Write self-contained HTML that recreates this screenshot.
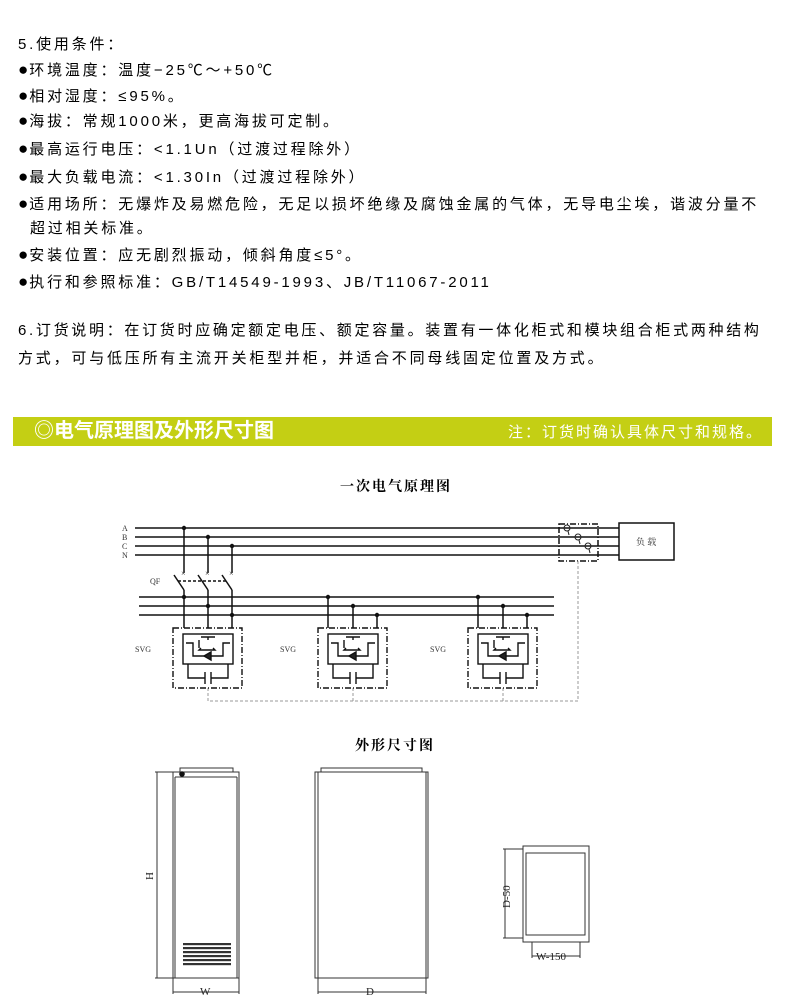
<!DOCTYPE html>
<html><head><meta charset="utf-8"><style>
body{margin:0;background:#fff;width:800px;height:1000px;position:relative;overflow:hidden;font-family:"Liberation Sans","Noto Sans CJK SC",sans-serif;color:#000}
.t{position:absolute;left:18px;font-size:15px;line-height:20px;letter-spacing:2.8px;white-space:nowrap}
.t b{font-size:17px;font-weight:normal;letter-spacing:0;margin-right:1px}
.bar{position:absolute;left:13px;top:417px;width:759px;height:29px;background:#c4cf14}
</style></head><body>
<div class="t" style="top:35px">5.使用条件：</div>
<div class="t" style="top:60px"><b>●</b>环境温度：温度−25℃～+50℃</div>
<div class="t" style="top:86px"><b>●</b>相对湿度：≤95%。</div>
<div class="t" style="top:111px"><b>●</b>海拔：常规1000米，更高海拔可定制。</div>
<div class="t" style="top:139px"><b>●</b>最高运行电压：&lt;1.1Un（过渡过程除外）</div>
<div class="t" style="top:167px"><b>●</b>最大负载电流：&lt;1.30In（过渡过程除外）</div>
<div class="t" style="top:194px"><b>●</b>适用场所：无爆炸及易燃危险，无足以损坏绝缘及腐蚀金属的气体，无导电尘埃，谐波分量不</div>
<div class="t" style="top:219px;left:30px">超过相关标准。</div>
<div class="t" style="top:245px"><b>●</b>安装位置：应无剧烈振动，倾斜角度≤5°。</div>
<div class="t" style="top:272px"><b>●</b>执行和参照标准：GB/T14549-1993、JB/T11067-2011</div>
<div class="t" style="top:321px;letter-spacing:2.7px">6.订货说明：在订货时应确定额定电压、额定容量。装置有一体化柜式和模块组合柜式两种结构</div>
<div class="t" style="top:349px">方式，可与低压所有主流开关柜型并柜，并适合不同母线固定位置及方式。</div>
<div class="bar"></div>
<div style="position:absolute;left:34px;top:419px;font-size:20px;font-weight:bold;color:#fff;line-height:25px">◎电气原理图及外形尺寸图</div>
<div style="position:absolute;left:508px;top:423px;font-size:15px;color:#fff;letter-spacing:2px;line-height:20px;white-space:nowrap">注：订货时确认具体尺寸和规格。</div>
<div style="position:absolute;left:340px;top:476px;font-size:14px;letter-spacing:2px;font-family:'Liberation Serif','Noto Serif CJK SC',serif;font-weight:bold">一次电气原理图</div>
<div style="position:absolute;left:355px;top:735px;font-size:14px;letter-spacing:2px;font-family:'Liberation Serif','Noto Serif CJK SC',serif;font-weight:bold">外形尺寸图</div>
<svg width="800" height="1000" style="position:absolute;left:0;top:0" font-family="Liberation Serif,serif">
<g stroke="#111" stroke-width="1.5" fill="none">
<line x1="135" y1="528" x2="619" y2="528"/><line x1="135" y1="537" x2="619" y2="537"/>
<line x1="135" y1="546" x2="619" y2="546"/><line x1="135" y1="555" x2="619" y2="555"/>
<line x1="139" y1="597" x2="554" y2="597"/><line x1="139" y1="606" x2="554" y2="606"/><line x1="139" y1="615" x2="554" y2="615"/>
<line x1="184" y1="528" x2="184" y2="573"/><line x1="208" y1="537" x2="208" y2="573"/><line x1="232" y1="546" x2="232" y2="573"/>
<line x1="174" y1="575" x2="184" y2="590"/><line x1="198" y1="575" x2="208" y2="590"/><line x1="222" y1="575" x2="232" y2="590"/>
<line x1="184" y1="590" x2="184" y2="628"/><line x1="208" y1="590" x2="208" y2="628"/><line x1="232" y1="590" x2="232" y2="628"/>
<line x1="178" y1="581" x2="228" y2="581" stroke-dasharray="3,2"/>
<line x1="328" y1="597" x2="328" y2="628"/><line x1="353" y1="606" x2="353" y2="628"/><line x1="377" y1="615" x2="377" y2="628"/>
<line x1="478" y1="597" x2="478" y2="628"/><line x1="503" y1="606" x2="503" y2="628"/><line x1="527" y1="615" x2="527" y2="628"/>
<rect x="559" y="524" width="39" height="37" stroke-dasharray="6,2,1,2"/>
<rect x="619" y="523" width="55" height="37"/>
</g>
<g font-size="8" fill="#333"><text x="122" y="531">A</text><text x="122" y="540">B</text><text x="122" y="549">C</text><text x="122" y="558">N</text>
<text x="150" y="584">QF</text><text x="135" y="652">SVG</text><text x="280" y="652">SVG</text><text x="430" y="652">SVG</text>
<text x="636" y="545" font-family="Noto Serif CJK SC,serif" font-size="9">负 载</text></g>
<g fill="#111"><circle cx="184" cy="528" r="2.2"/><circle cx="208" cy="537" r="2.2"/><circle cx="232" cy="546" r="2.2"/>
<circle cx="184" cy="597" r="2.2"/><circle cx="208" cy="606" r="2.2"/><circle cx="232" cy="615" r="2.2"/>
<circle cx="328" cy="597" r="2.2"/><circle cx="353" cy="606" r="2.2"/><circle cx="377" cy="615" r="2.2"/>
<circle cx="478" cy="597" r="2.2"/><circle cx="503" cy="606" r="2.2"/><circle cx="527" cy="615" r="2.2"/></g>
<g font-size="8" fill="#222"><text x="181" y="576">×</text><text x="205" y="576">×</text><text x="229" y="576">×</text></g>
<g stroke="#222" fill="none" stroke-width="1"><circle cx="567" cy="528" r="3"/><circle cx="578" cy="537" r="3"/><circle cx="588" cy="546" r="3"/>
<line x1="568" y1="531" x2="569" y2="535"/><line x1="579" y1="540" x2="580" y2="544"/><line x1="589" y1="549" x2="590" y2="553"/></g>
<path d="M578 561 V701 H208 M353 701V688 M503 701V688 M208 701V688" stroke="#999" fill="none" stroke-dasharray="3,2"/>
<g id="svg1" stroke="#111" fill="none" stroke-width="1.4">
<rect x="173" y="628" width="69" height="60" stroke-dasharray="6,2,1,2"/>
<rect x="183" y="634" width="50" height="30"/>
<path d="M188 664V678H205M211 678H228V664M205 672V684M211 672V684"/>
<path d="M186 643H193V656H223V643H230M199 640V648M201 637H215M208 637V640M201 648L199 650L215 650L213 648"/>
<path d="M204 656l7-4v8z M211 652v8" fill="#222"/>
</g>
<use href="#svg1" x="145"/><use href="#svg1" x="295"/>
<g stroke="#333" fill="none" stroke-width="1">
<rect x="173" y="772" width="66" height="206"/><line x1="175" y1="777" x2="237" y2="777"/>
<line x1="175" y1="777" x2="175" y2="978"/><line x1="237" y1="777" x2="237" y2="978"/>
<path d="M180 772V768H233V772"/>
<path d="M173 978V994M239 978V994M157 772V978M155 772H173M155 978H173M173 992H239"/>
<rect x="315" y="772" width="113" height="206"/><line x1="318" y1="772" x2="318" y2="978"/><line x1="426" y1="772" x2="426" y2="978"/>
<path d="M321 772V768H422V772M318 978V994M426 978V994M318 992H426"/>
<rect x="523" y="846" width="66" height="96"/><rect x="526" y="853" width="59" height="82"/>
<path d="M505 849V938M503 849H523M503 938H523M532 942V958M580 942V958M532 956H580"/>
</g>
<circle cx="182" cy="774" r="2.8" fill="#111"/>
<g fill="#333"><rect x="183" y="943" width="48" height="2.2"/><rect x="183" y="947" width="48" height="2.2"/><rect x="183" y="951" width="48" height="2.2"/><rect x="183" y="955" width="48" height="2.2"/><rect x="183" y="959" width="48" height="2.2"/><rect x="183" y="963" width="48" height="2.2"/></g>
<g font-size="11" fill="#222"><text x="200" y="995">W</text><text x="366" y="995">D</text><text x="536" y="960">W-150</text>
<text transform="translate(153,880) rotate(-90)">H</text><text transform="translate(510,908) rotate(-90)">D-50</text></g>
</svg>
</body></html>
